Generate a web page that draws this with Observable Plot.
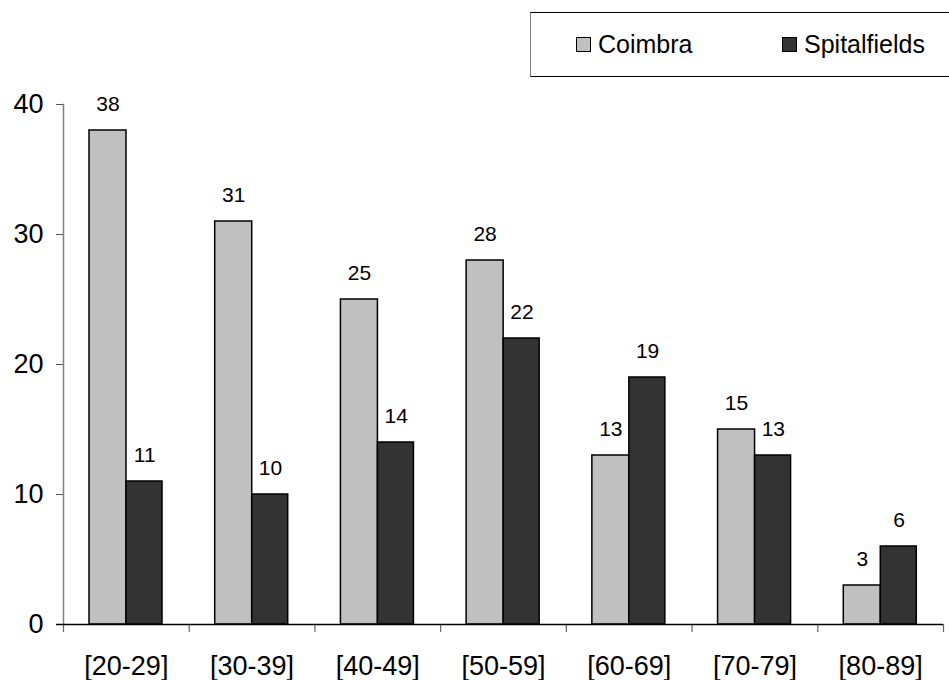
<!DOCTYPE html>
<html>
<head>
<meta charset="utf-8">
<script src="https://cdn.jsdelivr.net/npm/d3@7"></script>
<script src="https://cdn.jsdelivr.net/npm/@observablehq/plot@0.6"></script>
<style>
  html, body { margin: 0; padding: 0; background: #fff; }
  #wrap { position: relative; width: 949px; height: 680px; font-family: "Liberation Sans", Arial, sans-serif; }
  #legend { position: absolute; left: 530px; top: 12px; width: 430px; height: 65px;
    border-top: 1.5px solid #000; border-bottom: 1.5px solid #000; border-left: 1.5px solid #808080;
    box-sizing: border-box; }
  .item { position: absolute; top: 0; height: 100%; display: flex; align-items: center; font-size: 25px; color: #000; }
  .sw { width: 13px; height: 13px; border: 1.5px solid #000; margin-right: 7px; }
</style>
</head>
<body>
<div id="wrap">
  <div id="chart"></div>
  <div id="legend"></div>
</div>
<script>
const categories = ["[20-29]", "[30-39]", "[40-49]", "[50-59]", "[60-69]", "[70-79]", "[80-89]"];
const seriesNames = ["Coimbra", "Spitalfields"];
const coimbra = [38, 31, 25, 28, 13, 15, 3];
const spitalfields = [11, 10, 14, 22, 19, 13, 6];
const yTicks = [0, 10, 20, 30, 40];
const colors = ["#c0c0c0", "#333333"];

const rowsC = categories.map((c, i) => ({category: c, series: seriesNames[0], value: coimbra[i]}));
const rowsS = categories.map((c, i) => ({category: c, series: seriesNames[1], value: spitalfields[i]}));

const W = 949, H = 680, mL = 63, mR = 6;
const band = (W - mL - mR) / categories.length;

const chart = Plot.plot({
  width: W,
  height: H,
  marginLeft: mL,
  marginRight: mR,
  marginTop: 104,
  marginBottom: 56,
  style: {fontFamily: "Liberation Sans, Arial, sans-serif", background: "#fff", color: "#000"},
  x: {domain: categories, padding: 0, round: false},
  y: {domain: [0, 40]},
  marks: [
    Plot.frame({anchor: "left", stroke: "#808080", strokeWidth: 1.5}),
    Plot.axisY({ticks: yTicks, tickSize: 7, tickPadding: 13, fontSize: 27, stroke: "#555", fill: "#000", label: null}),
    Plot.axisX({tickSize: 8, text: null, dx: -band / 2, stroke: "#666", strokeWidth: 1.2, label: null}),
    Plot.axisX({ticks: [categories[categories.length - 1]], tickSize: 8, text: null, dx: band / 2, stroke: "#666", strokeWidth: 1.2, label: null}),
    Plot.axisX({tickSize: 0, tickPadding: 31, fontSize: 27, fill: "#000", label: null}),
    Plot.barY(rowsC, {x: "category", y: "value", fill: colors[0], stroke: "#000", strokeWidth: 1.5, insetLeft: 26, insetRight: band - 63}),
    Plot.barY(rowsS, {x: "category", y: "value", fill: colors[1], stroke: "#000", strokeWidth: 1.5, insetLeft: 63, insetRight: band - 99}),
    Plot.ruleY([0], {stroke: "#000", strokeWidth: 1.5, insetLeft: -7}),
    Plot.text(rowsC, {x: "category", y: "value", text: d => String(d.value), dx: -18.4, dy: -26, fontSize: 21, fill: "#000"}),
    Plot.text(rowsS, {x: "category", y: "value", text: d => String(d.value), dx: 18.4, dy: -26, fontSize: 21, fill: "#000"})
  ]
});
document.getElementById("chart").appendChild(chart);

const legend = document.getElementById("legend");
const legendX = [45, 251];
seriesNames.forEach((name, i) => {
  const it = document.createElement("div");
  it.className = "item";
  it.style.left = legendX[i] + "px";
  const sw = document.createElement("div");
  sw.className = "sw";
  sw.style.background = colors[i];
  const t = document.createElement("span");
  t.textContent = name;
  it.appendChild(sw);
  it.appendChild(t);
  legend.appendChild(it);
});
</script>
</body>
</html>
